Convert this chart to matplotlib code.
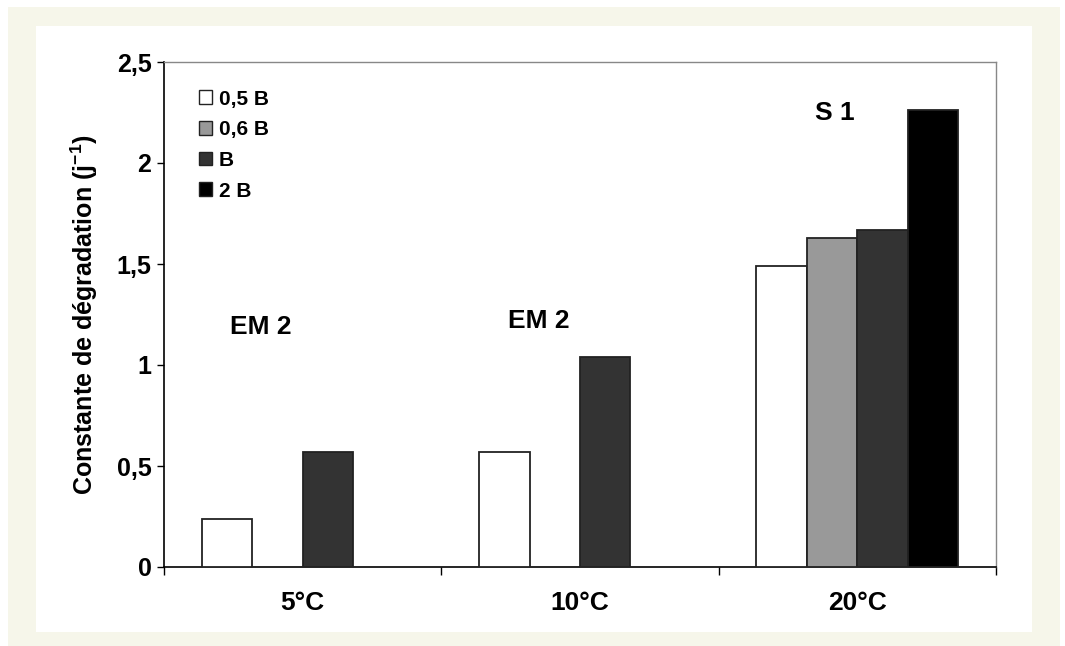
import numpy as np
import matplotlib
matplotlib.use("Agg")
import matplotlib.pyplot as plt
from matplotlib.patches import Rectangle, Patch

plt.rcParams['font.family'] = ['Liberation Sans', 'DejaVu Sans']
plt.rcParams['font.weight'] = 'bold'
plt.rcParams['mathtext.fontset'] = 'custom'
plt.rcParams['mathtext.rm'] = 'Liberation Sans:bold'
plt.rcParams['mathtext.bf'] = 'Liberation Sans:bold'

categories = ["5°C", "10°C", "20°C"]
series_names = ["0,5 B", "0,6 B", "B", "2 B"]
series_colors = ["#ffffff", "#999999", "#333333", "#000000"]
# values per series across categories (None = no bar)
v_05B = [0.24, 0.57, 1.49]
v_06B = [None, None, 1.63]
v_B = [0.57, 1.04, 1.67]
v_2B = [None, None, 2.26]
series_values = [v_05B, v_06B, v_B, v_2B]
yticks = [0, 0.5, 1, 1.5, 2, 2.5]
ytick_labels = ["0", "0,5", "1", "1,5", "2", "2,5"]
annotations = [("EM 2", -0.15, 1.19), ("EM 2", 0.85, 1.22), ("S 1", 1.92, 2.25)]

W, H = 1065, 646
fig = plt.figure(figsize=(W / 100, H / 100), dpi=100, facecolor="white")
fig.patches.append(Rectangle((8 / W, 0), 1052 / W, 1 - 7 / H, transform=fig.transFigure,
                             facecolor="#f6f6ea", edgecolor="none", zorder=-10))
fig.patches.append(Rectangle((36 / W, 14 / H), 996 / W, 606 / H, transform=fig.transFigure,
                             facecolor="white", edgecolor="none", zorder=-9))

ax = fig.add_axes([164 / W, 1 - 567 / H, (996 - 164) / W, (567 - 62) / H])
ax.set_facecolor("none")

x = np.arange(len(categories))
bw = 0.182
for i, (vals, col) in enumerate(zip(series_values, series_colors)):
    off = (i - 1.5) * bw
    xs = [x[j] + off for j, v in enumerate(vals) if v is not None]
    hs = [v for v in vals if v is not None]
    ax.bar(xs, hs, width=bw, color=col, edgecolor="#222222", linewidth=1.3, zorder=3)

ax.set_xlim(-0.5, 2.5)
ax.set_ylim(0, 2.5)
ax.set_yticks(yticks)
ax.set_yticklabels(ytick_labels, fontsize=18, fontweight="bold")
ax.tick_params(axis="y", direction="out", length=5, width=1, pad=4)

ax.set_xticks(x)
ax.set_xticklabels(categories, fontsize=19, fontweight="bold")
ax.tick_params(axis="x", which="major", length=0, pad=17)
ax.set_xticks([-0.5, 0.5, 1.5, 2.5], minor=True)
ax.tick_params(axis="x", which="minor", direction="out", length=6, width=1)

for s in ["top", "right"]:
    ax.spines[s].set_color("#888888")
    ax.spines[s].set_linewidth(1.0)
for s in ["left", "bottom"]:
    ax.spines[s].set_color("black")
    ax.spines[s].set_linewidth(1.2)

ax.set_ylabel("Constante de dégradation (j$^{\\mathrm{-1}}$)", fontsize=18, fontweight="bold", labelpad=12)

for txt, tx, ty in annotations:
    ax.text(tx, ty, txt, fontsize=19, fontweight="bold", ha="center", va="center")

handles = [Patch(facecolor=c, edgecolor="#222222", linewidth=1.0) for c in series_colors]
leg = ax.legend(handles, series_names, loc="upper left", bbox_to_anchor=(0.032, 0.962),
                frameon=False, prop={"size": 15, "weight": "bold"},
                handlelength=0.65, handleheight=0.65, handletextpad=0.3,
                labelspacing=0.56, borderaxespad=0)

fig.savefig("out.png", dpi=100, facecolor="white")
